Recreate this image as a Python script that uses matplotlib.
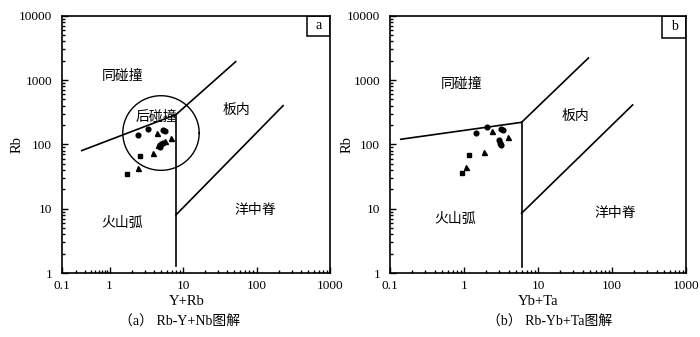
import matplotlib
matplotlib.use("Agg")
import matplotlib.pyplot as plt
import numpy as np
from matplotlib.patches import Rectangle
from matplotlib.ticker import FixedLocator, NullFormatter

plt.rcParams['font.family'] = ['Liberation Serif', 'Noto Sans CJK SC']

# ---- data: panel a (Rb vs Y+Nb) ----
a_circ_x = [2.4, 3.3, 5.4, 5.7, 5.0, 5.3, 4.8]
a_circ_y = [142, 175, 166, 160, 100, 104, 92]
a_tri_x = [4.4, 6.9, 5.7, 4.5, 3.9, 2.4]
a_tri_y = [150, 124, 113, 98, 74, 43]
a_sq_x = [2.6, 1.7]
a_sq_y = [67, 35]

a_line1_x = [0.26, 8, 52]          # syn-COLG boundary
a_line1_y = [80, 290, 1930]
a_vert_x = [8, 8]
a_vert_y = [290, 1.3]
a_org_x = [8, 230]
a_org_y = [8, 400]
a_ring_center = (5.0, 150.0)
a_ring_radius = (0.52, 0.58)       # in decades (x, y)

a_labels = ['同碰撞', '后碰撞', '板内', '洋中脊', '火山弧']
a_label_x = [1.5, 4.3, 53, 97, 1.5]
a_label_y = [1150, 270, 340, 9.5, 6]

# ---- data: panel b (Rb vs Yb+Ta) ----
b_circ_x = [1.44, 2.07, 3.2, 3.4, 3.0, 3.1, 3.2]
b_circ_y = [149, 184, 174, 165, 117, 104, 96]
b_tri_x = [2.37, 3.9, 1.86, 1.07, 3.05]
b_tri_y = [160, 132, 77, 44, 110]
b_sq_x = [1.17, 0.93]
b_sq_y = [68, 36]

b_line1_x = [0.14, 6, 48]
b_line1_y = [120, 220, 2200]
b_vert_x = [6, 6]
b_vert_y = [220, 1.25]
b_org_x = [6, 190]
b_org_y = [8.5, 410]

b_labels = ['同碰撞', '板内', '洋中脊', '火山弧']
b_label_x = [0.93, 32, 112, 0.75]
b_label_y = [870, 280, 8.7, 6.8]

xticks = [0.1, 1, 10, 100, 1000]
xticklabels = ['0.1', '1', '10', '100', '1000']
yticks = [1, 10, 100, 1000, 10000]
yticklabels = ['1', '10', '100', '1000', '10000']
minor_x = [m * 10.0 ** e for e in range(-1, 3) for m in range(2, 10)]
minor_y = [m * 10.0 ** e for e in range(0, 4) for m in range(2, 10)]

# panel a of the original has its first decade (0.1-1) squeezed
SQUEEZE = 48 / 74


def fwd(x):
    u = np.log10(np.clip(x, 1e-6, None))
    return np.where(u < 0, u * SQUEEZE, u)


def inv(u):
    return 10 ** np.where(u < 0, u / SQUEEZE, u)


fig = plt.figure(figsize=(7, 3.37), dpi=100)
ax1 = fig.add_axes([62/700, 64/337, 268/700, 257.3/337])
ax2 = fig.add_axes([390/700, 64/337, 296/700, 257.3/337])


def setup(ax, xlabel, xlab_pos, ylab_pos, tag, box_w, box_h):
    ax.set_yscale('log')
    ax.set_xlim(0.1, 1000)
    ax.set_ylim(1, 10000)
    ax.xaxis.set_major_locator(FixedLocator(xticks))
    ax.set_xticklabels(xticklabels)
    ax.yaxis.set_major_locator(FixedLocator(yticks))
    ax.set_yticklabels(yticklabels)
    ax.xaxis.set_minor_locator(FixedLocator(minor_x))
    ax.yaxis.set_minor_locator(FixedLocator(minor_y))
    ax.xaxis.set_minor_formatter(NullFormatter())
    ax.yaxis.set_minor_formatter(NullFormatter())
    ax.tick_params(which='both', direction='in', top=False, right=False,
                   labelsize=9.5, width=1)
    ax.tick_params(axis='x', which='major', length=4, pad=5)
    ax.tick_params(axis='y', which='major', length=4, pad=7)
    ax.tick_params(which='minor', length=2.5)
    for s in ax.spines.values():
        s.set_linewidth(1.2)
    ax.set_xlabel(xlabel, fontsize=10.5)
    ax.xaxis.set_label_coords(xlab_pos, -0.085)
    ax.set_ylabel('Rb', fontsize=10.5)
    ax.yaxis.set_label_coords(ylab_pos, 0.5)
    ax.add_patch(Rectangle((1 - box_w, 1 - box_h), box_w, box_h,
                           transform=ax.transAxes, fill=False, lw=1.1))
    ax.text(1 - box_w / 2, 1 - box_h / 2, tag, transform=ax.transAxes,
            ha='center', va='center', fontsize=10)


# panel a
ax1.set_xscale('function', functions=(fwd, inv))
setup(ax1, 'Y+Rb', 0.465, -0.142, 'a', 23/268, 20/257)
ax1.plot(a_line1_x, a_line1_y, 'k-', lw=1.2)
ax1.plot(a_vert_x, a_vert_y, 'k-', lw=1.2)
ax1.plot(a_org_x, a_org_y, 'k-', lw=1.2)
t = np.linspace(0, 2 * np.pi, 200)
ax1.plot(10 ** (np.log10(a_ring_center[0]) + a_ring_radius[0] * np.cos(t)),
         10 ** (np.log10(a_ring_center[1]) + a_ring_radius[1] * np.sin(t)),
         'k-', lw=1)
ax1.plot(a_circ_x, a_circ_y, 'ko', ms=3.4, ls='none')
ax1.plot(a_tri_x, a_tri_y, 'k^', ms=3.6, ls='none')
ax1.plot(a_sq_x, a_sq_y, 'ks', ms=3.4, ls='none')
for s, x, y in zip(a_labels, a_label_x, a_label_y):
    ax1.text(x, y, s, ha='center', va='center', fontsize=10,
             family=['Noto Sans CJK SC'])

# panel b
ax2.set_xscale('log')
setup(ax2, 'Yb+Ta', 0.5, -0.122, 'b', 24/296, 22/257)
ax2.plot(b_line1_x, b_line1_y, 'k-', lw=1.2)
ax2.plot(b_vert_x, b_vert_y, 'k-', lw=1.2)
ax2.plot(b_org_x, b_org_y, 'k-', lw=1.2)
ax2.plot(b_circ_x, b_circ_y, 'ko', ms=3.4, ls='none')
ax2.plot(b_tri_x, b_tri_y, 'k^', ms=3.6, ls='none')
ax2.plot(b_sq_x, b_sq_y, 'ks', ms=3.4, ls='none')
for s, x, y in zip(b_labels, b_label_x, b_label_y):
    ax2.text(x, y, s, ha='center', va='center', fontsize=10,
             family=['Noto Sans CJK SC'])

fig.text(180/700, 1 - 322/337, '（a） Rb-Y+Nb图解', ha='center', va='center',
         fontsize=10)
fig.text(550/700, 1 - 322/337, '（b） Rb-Yb+Ta图解', ha='center', va='center',
         fontsize=10)

fig.savefig('out.png', dpi=100)
